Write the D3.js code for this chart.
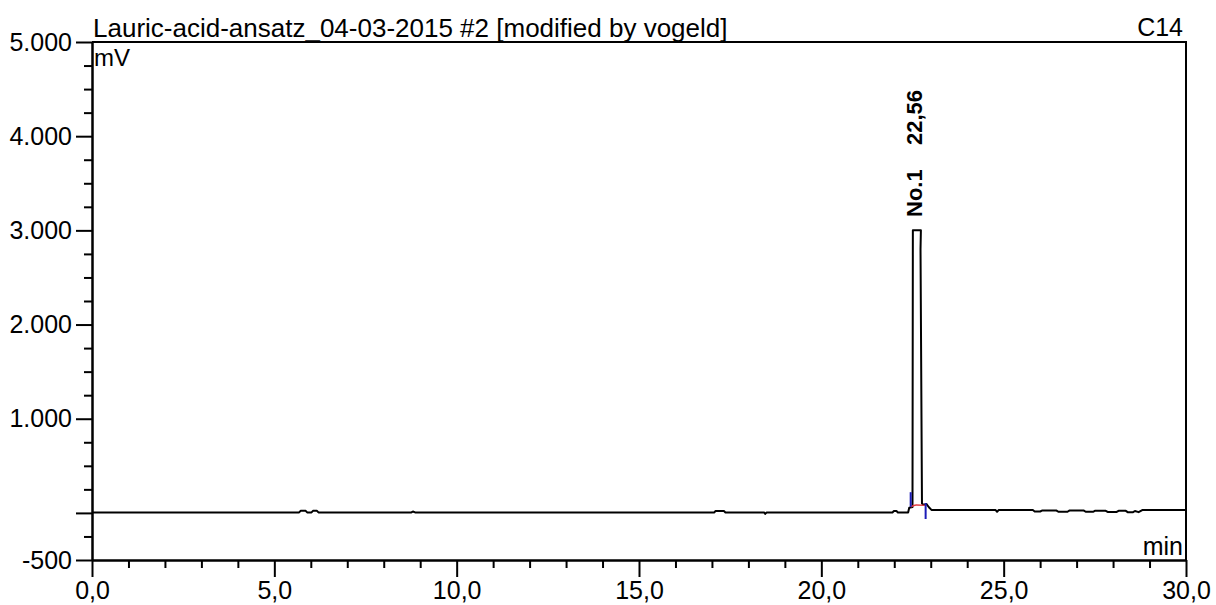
<!DOCTYPE html>
<html>
<head>
<meta charset="utf-8">
<script src="https://cdn.jsdelivr.net/npm/d3@7"></script>
<style>
    body { margin: 0; background: #fff; }
    svg text { font-family: "Liberation Sans", Arial, sans-serif; fill: #000; }
    .axis path, .axis line { stroke: #000; stroke-width: 2px; }
</style>
</head>
<body>
<svg id="chart"></svg>
<script>
// chromatogram trace (time in min, signal in mV)
const timeMin = [0, 5.68, 5.72, 5.86, 5.9, 6.02, 6.06, 6.17, 6.21, 8.76, 8.8, 8.86,
    17.06, 17.1, 17.33, 17.37, 18.43, 18.46, 18.5, 21.95, 21.99, 22.06, 22.1, 22.38,
    22.41, 22.5, 22.51, 22.73, 22.72, 22.76, 22.8, 22.88, 22.95, 23.02, 24.78, 24.82,
    24.86, 25.8, 25.85, 26.0, 26.05, 26.45, 26.5, 26.75, 26.8, 27.2, 27.25, 27.45, 27.5,
    27.8, 27.85, 28.1, 28.15, 28.35, 28.4, 28.55, 28.6, 28.7, 28.8, 30];
const signalMv = [5, 5, 22, 22, 5, 5, 22, 22, 5, 5, 15, 5,
    5, 20, 20, 5, 5, -10, 5, 5, 20, 20, 5, 5,
    55, 62, 3000, 3000, 2800, 100, 85, 95, 60, 32, 30, 12,
    30, 30, 15, 15, 25, 25, 12, 12, 25, 25, 12, 12, 22,
    22, 10, 10, 22, 22, 8, 8, 20, 8, 30, 30];

// peak table
const peakNames = ["No.1"];
const peakTimes = [22.56];

// integration marks
const startMark = [22.45, 65, 220];   // time, low, high
const endMark = [22.86, -65, 105];
const baseTimes = [22.45, 22.6, 22.86];
const baseMv = [65, 85, 80];

const yMajor = [-500, 0, 1000, 2000, 3000, 4000, 5000];
const yMinor = d3.range(-250, 5000, 250).filter(v => v % 1000 !== 0);
const xMajor = [0, 5, 10, 15, 20, 25, 30];
const xMinor = d3.range(1, 30, 1).filter(v => v % 5 !== 0);

const chartTitle = "Lauric-acid-ansatz_04-03-2015 #2 [modified by vogeld]";
const channel = "C14";

var width = 1216, height = 605;
var margin = { top: 42, right: 30, bottom: 45, left: 92 },
    innerW = width - margin.left - margin.right,
    innerH = height - margin.top - margin.bottom;

const de = d3.formatLocale({ decimal: ",", thousands: ".", grouping: [3], currency: ["", "€"], minus: "-" });
const yFmt = de.format(",.0f");
const xFmt = de.format(".1f");
const tFmt = de.format(".2f");

var svg = d3.select("#chart")
    .attr("width", width)
    .attr("height", height)
    .append("g")
    .attr("transform", "translate(" + margin.left + "," + margin.top + ")");

var x = d3.scaleLinear().domain([0, 30]).range([0, innerW]);
var y = d3.scaleLinear().domain([-500, 5000]).range([innerH, 0]);

// y axis: major then minor ticks
svg.append("g").attr("class", "axis")
    .call(d3.axisLeft(y).tickValues(yMajor).tickSize(16).tickSizeOuter(0).tickPadding(4)
        .tickFormat(d => d === 0 ? "" : yFmt(d)))
    .selectAll("text").style("font-size", "25px");
svg.append("g").attr("class", "axis")
    .call(d3.axisLeft(y).tickValues(yMinor).tickSize(8).tickSizeOuter(0).tickFormat(""));

// x axis
svg.append("g").attr("class", "axis")
    .attr("transform", "translate(0," + innerH + ")")
    .call(d3.axisBottom(x).tickValues(xMajor).tickSize(17).tickSizeOuter(0).tickPadding(4).tickFormat(xFmt))
    .selectAll("text").style("font-size", "25px");
svg.append("g").attr("class", "axis")
    .attr("transform", "translate(0," + innerH + ")")
    .call(d3.axisBottom(x).tickValues(xMinor).tickSize(8).tickSizeOuter(0).tickFormat(""));

// frame top and right
svg.append("path")
    .attr("d", "M0,0H" + x(30) + "V" + innerH)
    .attr("fill", "none")
    .attr("stroke", "#000")
    .attr("stroke-width", 2);

// trace
var trace = d3.line()
    .x((d, i) => x(timeMin[i]))
    .y(d => y(d));
svg.append("path")
    .datum(signalMv)
    .attr("d", trace)
    .attr("fill", "none")
    .attr("stroke", "#000")
    .attr("stroke-width", 2)
    .attr("stroke-linejoin", "round");

// integration baseline + delimiters
svg.append("path")
    .datum(baseMv)
    .attr("d", d3.line().curve(d3.curveMonotoneX).x((d, i) => x(baseTimes[i])).y(d => y(d)))
    .attr("fill", "none")
    .attr("stroke", "#e0393e")
    .attr("stroke-width", 1.5);
[startMark, endMark].forEach(m => {
    svg.append("line")
        .attr("x1", x(m[0])).attr("x2", x(m[0]))
        .attr("y1", y(m[1])).attr("y2", y(m[2]))
        .attr("stroke", "#1c1cb8")
        .attr("stroke-width", 2);
});

// peak labels
peakTimes.forEach((t, i) => {
    var px = x(t) + 7;
    svg.append("text")
        .attr("transform", "translate(" + px + "," + 175 + ") rotate(-90)")
        .style("font-size", "22px").style("font-weight", "bold")
        .text(peakNames[i]);
    svg.append("text")
        .attr("transform", "translate(" + px + "," + 103 + ") rotate(-90)")
        .style("font-size", "22px").style("font-weight", "bold")
        .text(tFmt(t));
});

// texts
svg.append("text").attr("x", 1).attr("y", -5).style("font-size", "26px").text(chartTitle);
svg.append("text").attr("x", x(30) - 3).attr("y", -6).attr("text-anchor", "end").style("font-size", "25px").text(channel);
svg.append("text").attr("x", 2).attr("y", 24).style("font-size", "24px").text("mV");
svg.append("text").attr("x", x(30) - 3).attr("y", innerH - 5).attr("text-anchor", "end").style("font-size", "25px").text("min");
</script>
</body>
</html>
